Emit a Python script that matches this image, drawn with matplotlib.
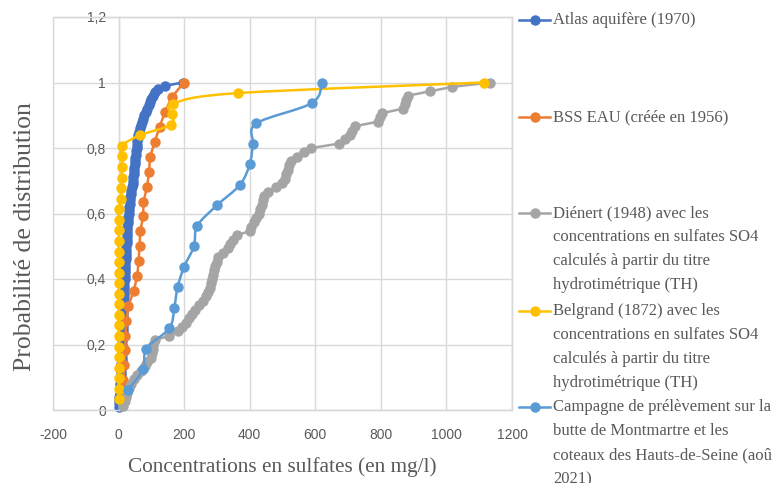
import numpy as np
import matplotlib
matplotlib.use("Agg")
import matplotlib.pyplot as plt
from matplotlib.path import Path
from matplotlib.patches import PathPatch, Rectangle
from matplotlib.lines import Line2D

plt.rcParams["axes.unicode_minus"] = False

# ---------------- data (concentrations, sorted) ----------------
series_names = [
    "Atlas aquifère (1970)",
    "BSS EAU (créée en 1956)",
    "Diénert (1948) avec les\nconcentrations en sulfates SO4\ncalculés à partir du titre\nhydrotimétrique (TH)",
    "Belgrand (1872) avec les\nconcentrations en sulfates SO4\ncalculés à partir du titre\nhydrotimétrique (TH)",
    "Campagne de prélèvement sur la\nbutte de Montmartre et les\ncoteaux des Hauts-de-Seine (août\n2021)",
]

atlas_x = [0, 1, 2, 2, 3, 3, 4, 5, 6,
           6, 7, 7, 8, 8, 9, 9, 10, 10, 10,
           11, 11, 11, 12, 12, 12, 13, 13, 14, 14,
           15, 15, 15, 16, 16, 17, 17, 17, 18, 18,
           19, 19, 20, 20, 21, 21, 22, 22, 23, 24,
           24, 25, 25, 26, 26, 27, 27, 28, 29, 30,
           31, 32, 33, 34, 35, 36, 38, 39, 41, 43,
           44, 45, 46, 47, 48, 49, 50, 51, 52, 54,
           55, 56, 57, 58, 59, 61, 64, 67, 70, 73,
           78, 83, 88, 92, 96, 100, 106, 112, 120, 143,
           195]

bss_x = [12, 15, 18, 21, 21, 24, 30, 46, 57, 61, 64, 66, 75, 76, 87, 93, 96, 110,
         125, 141, 162, 199]

dienert_x = [15, 19, 22, 27, 32, 37, 46, 55, 68, 80, 88, 98, 101, 104, 106, 110, 155, 180,
             192, 207, 216, 224, 234, 244, 256, 266, 273, 279, 282, 285, 288, 291, 295, 299,
             304, 318, 333, 341, 350, 361, 400, 405, 412, 420, 427, 431, 436, 440, 443, 455,
             479, 497, 507, 512, 516, 520, 525, 545, 565, 588, 672, 690, 705, 712, 720, 790,
             798, 805, 867, 873, 878, 884, 951, 1018, 1134]

belgrand_x = [0, 0, 0, 0, 0, 0, 0, 0, 0, 0, 0, 0, 0, 0, 0, 0, 0, 0, 0,
              8, 8, 9, 9, 10, 10, 65, 160, 163, 166, 365, 1115]

campagne_x = [30, 75, 85, 155, 170, 180, 200, 230, 240, 300, 370, 400, 410, 420, 590, 620]

colors = ["#4472C4", "#ED7D31", "#A5A5A5", "#FFC000", "#5B9BD5"]
smooth = [False, False, False, True, True]

x_ticks = [-200, 0, 200, 400, 600, 800, 1000, 1200]
y_ticks = [0, 0.2, 0.4, 0.6, 0.8, 1.0, 1.2]
y_tick_labels = ["0", "0,2", "0,4", "0,6", "0,8", "1", "1,2"]

x_label = "Concentrations en sulfates (en mg/l)"
y_label = "Probabilité de distribution"


def ecdf(xs):
    xs = np.asarray(xs, dtype=float)
    n = len(xs)
    return xs, np.arange(1, n + 1) / n


def smooth_path(x, y):
    pts = np.column_stack([x, y])
    verts = [pts[0]]
    codes = [Path.MOVETO]
    n = len(pts)
    for i in range(n - 1):
        p0 = pts[i - 1] if i > 0 else pts[i]
        p1 = pts[i]
        p2 = pts[i + 1]
        p3 = pts[i + 2] if i + 2 < n else pts[i + 1]
        c1 = p1 + (p2 - p0) / 6.0
        c2 = p2 - (p3 - p1) / 6.0
        verts += [c1, c2, p2]
        codes += [Path.CURVE4] * 3
    return Path(verts, codes)


W, H = 772, 483
fig = plt.figure(figsize=(W / 100, H / 100), dpi=100)
L, R, T, B = 53, 512, 17, 410
ax = fig.add_axes([L / W, 1 - B / H, (R - L) / W, (B - T) / H])

grid_c = "#D9D9D9"
txt_c = "#595959"
serif = ["Liberation Serif", "DejaVu Serif"]
sans = ["Liberation Sans", "DejaVu Sans"]

ax.set_xlim(-200, 1200)
ax.set_ylim(0, 1.2)
ax.set_xticks(x_ticks)
ax.set_yticks(y_ticks)
ax.set_yticklabels(y_tick_labels)
ax.grid(True, color=grid_c, lw=1.0, zorder=0)
ax.set_axisbelow(True)
for s in ax.spines.values():
    s.set_color(grid_c)
    s.set_linewidth(1.0)
ax.spines["left"].set_position(("data", 0))
ax.add_patch(Rectangle((0, 0), 1, 1, transform=ax.transAxes, fill=False,
                       edgecolor=grid_c, lw=1.0, clip_on=False, zorder=0.5))
ax.tick_params(axis="both", length=0, labelcolor=txt_c, labelsize=10)
ax.tick_params(axis="x", pad=13)
ax.tick_params(axis="y", pad=9)
for lab in ax.get_xticklabels() + ax.get_yticklabels():
    lab.set_family(sans)

data = [atlas_x, bss_x, dienert_x, belgrand_x, campagne_x]
for k, (xs, c, sm) in enumerate(zip(data, colors, smooth)):
    x, y = ecdf(xs)
    if sm:
        ax.add_patch(PathPatch(smooth_path(x, y), fill=False, edgecolor=c,
                               lw=1.8, zorder=2 + k, clip_on=False))
        ax.plot(x, y, "o", color=c, ms=6.5, zorder=2 + k, clip_on=False)
    else:
        ax.plot(x, y, "-o", color=c, lw=1.8, ms=6.5, zorder=2 + k, clip_on=False)

fig.text(282 / W, 1 - 467 / H, x_label, family=serif, fontsize=15.3, color=txt_c,
         ha="center", va="center")
fig.text(25 / W, 1 - 237 / H, y_label, family=serif, fontsize=18.5, color=txt_c,
         ha="center", va="center", rotation=90)

# legend, drawn manually to mimic the spread-out layout
leg_y = [20, 117, 213, 311, 407]
line_gap = 24
for name, c, y0 in zip(series_names, colors, leg_y):
    yf = 1 - y0 / H
    fig.add_artist(Line2D([519 / W, 550 / W], [yf, yf], color=c, lw=1.8,
                          transform=fig.transFigure))
    fig.add_artist(Line2D([535 / W], [yf], color=c, marker="o", ms=6.5,
                          transform=fig.transFigure))
    for j, line in enumerate(name.split("\n")):
        fig.text(553 / W, 1 - (y0 + j * line_gap) / H, line, family=serif,
                 fontsize=12, color=txt_c, ha="left", va="center")

fig.savefig("out.png", dpi=100)
